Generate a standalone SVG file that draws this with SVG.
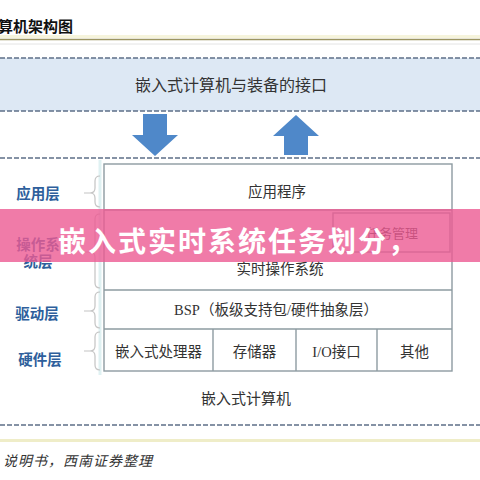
<svg xmlns="http://www.w3.org/2000/svg" width="480" height="480" viewBox="0 0 480 480">
<style>
.dash{stroke:#5d6f88;stroke-width:1.6;stroke-dasharray:5 2;fill:none}
.box{fill:none;stroke:#8d9ba1;stroke-width:1.4}
.t{font-family:"Liberation Serif","Noto Sans CJK SC",serif;fill:#333;text-anchor:middle}
.lab{font-family:"Liberation Sans","Noto Sans CJK SC",sans-serif;font-weight:bold;fill:#2e5f9c;font-size:14.5px;text-anchor:middle}
.br{fill:none;stroke:#c4c4c4;stroke-width:1.2}
.arr{fill:#4f88c9}
</style>
<rect width="480" height="480" fill="#ffffff"/>
<!-- header -->
<text x="-2" y="32" font-family="Liberation Sans,'Noto Sans CJK SC',sans-serif" font-weight="bold" font-size="15" fill="#111">算机架构图</text>
<rect x="0" y="35" width="480" height="3" fill="#f6f4dc"/>
<line x1="0" y1="39.5" x2="480" y2="39.5" stroke="#9c9562" stroke-width="1.6"/>
<line x1="0" y1="44" x2="480" y2="44" stroke="#e4e4e4" stroke-width="1"/>
<!-- interface band -->
<g id="interface">
<rect x="0" y="58" width="480" height="53" fill="#dde8f4"/>
<line class="dash" x1="0" y1="58" x2="480" y2="58"/>
<line class="dash" x1="0" y1="111" x2="480" y2="111"/>
<text class="t" x="231" y="91" font-size="16">嵌入式计算机与装备的接口</text>
</g>
<g id="connectors">
<polygon class="arr" points="143,114 167,114 167,135 178,135 155,156 132,135 143,135"/>
<polygon class="arr" points="296,115 319,136 308,136 308,155 284,155 284,136 273,136"/>
</g>
<line class="dash" x1="0" y1="158" x2="480" y2="158"/>
<line x1="100" y1="160" x2="100" y2="375" stroke="#dff1f2" stroke-width="3"/>
<!-- main stack -->
<g id="stack">
<rect class="box" x="104" y="164" width="348" height="207"/>
<line class="box" x1="104" y1="210" x2="452" y2="210"/>
<line class="box" x1="104" y1="290" x2="452" y2="290"/>
<line class="box" x1="104" y1="329" x2="452" y2="329"/>
<line class="box" x1="213" y1="329" x2="213" y2="371"/>
<line class="box" x1="296" y1="329" x2="296" y2="371"/>
<line class="box" x1="377" y1="329" x2="377" y2="371"/>
</g>
<g id="app"><text class="t" x="277" y="197" font-size="14.5">应用程序</text></g>
<g id="task"><rect class="box" x="333" y="213" width="117" height="39"/><text class="t" x="392" y="238" font-size="13">任务管理</text></g>
<g id="rtos"><text class="t" x="280" y="274" font-size="14.5">实时操作系统</text></g>
<g id="bsp"><text class="t" x="276" y="315" font-size="14.5">BSP（板级支持包/硬件抽象层）</text></g>
<g id="cpu"><text class="t" x="158.5" y="357" font-size="14.5">嵌入式处理器</text></g>
<g id="mem"><text class="t" x="254.5" y="357" font-size="14.5">存储器</text></g>
<g id="io"><text class="t" x="336.5" y="357" font-size="14.5">I/O接口</text></g>
<g id="other"><text class="t" x="414.5" y="357" font-size="14.5">其他</text></g>
<g id="computer"><text class="t" x="246" y="404" font-size="15">嵌入式计算机</text></g>
<!-- left labels & brackets -->
<g id="brackets">
<path class="br" d="M100,176 Q95,176 95,181 L95,188 Q95,193 90,193 L84,193 M90,193 Q95,193 95,198 L95,202 Q95,207 100,207"/>
<path class="br" d="M100,214 Q95,214 95,219 L95,247 Q95,252 90,252 L84,252 M90,252 Q95,252 95,257 L95,283 Q95,288 100,288"/>
<path class="br" d="M100,292 Q95,292 95,297 L95,306 Q95,311 90,311 L84,311 M90,311 Q95,311 95,316 L95,323 Q95,328 100,328"/>
<path class="br" d="M100,332 Q95,332 95,337 L95,346 Q95,351 90,351 L84,351 M90,351 Q95,351 95,356 L95,365 Q95,370 100,370"/>
</g>
<g id="l-app"><text class="lab" x="38" y="199">应用层</text></g>
<g id="l-os"><text class="lab" x="38" y="250">操作系</text><text class="lab" x="38" y="267">统层</text></g>
<g id="l-drv"><text class="lab" x="37" y="319">驱动层</text></g>
<g id="l-hw"><text class="lab" x="40" y="365">硬件层</text></g>
<!-- footer -->
<line class="dash" x1="0" y1="425" x2="480" y2="425"/>
<rect x="0" y="439" width="480" height="3" fill="#efedc8"/>
<text x="3" y="466" font-family="Liberation Serif,'Noto Sans CJK SC',serif" font-style="italic" font-size="14" letter-spacing="1" fill="#333">说明书，西南证券整理</text>
<!-- overlay banner -->
<rect x="0" y="209" width="480" height="53" fill="#ec5a92" fill-opacity="0.8"/>
<text x="58" y="252" font-family="Liberation Sans,'Noto Sans CJK SC',sans-serif" font-weight="bold" font-size="28" letter-spacing="2" fill="#ffffff">嵌入式实时系统任务划分，</text>
</svg>
